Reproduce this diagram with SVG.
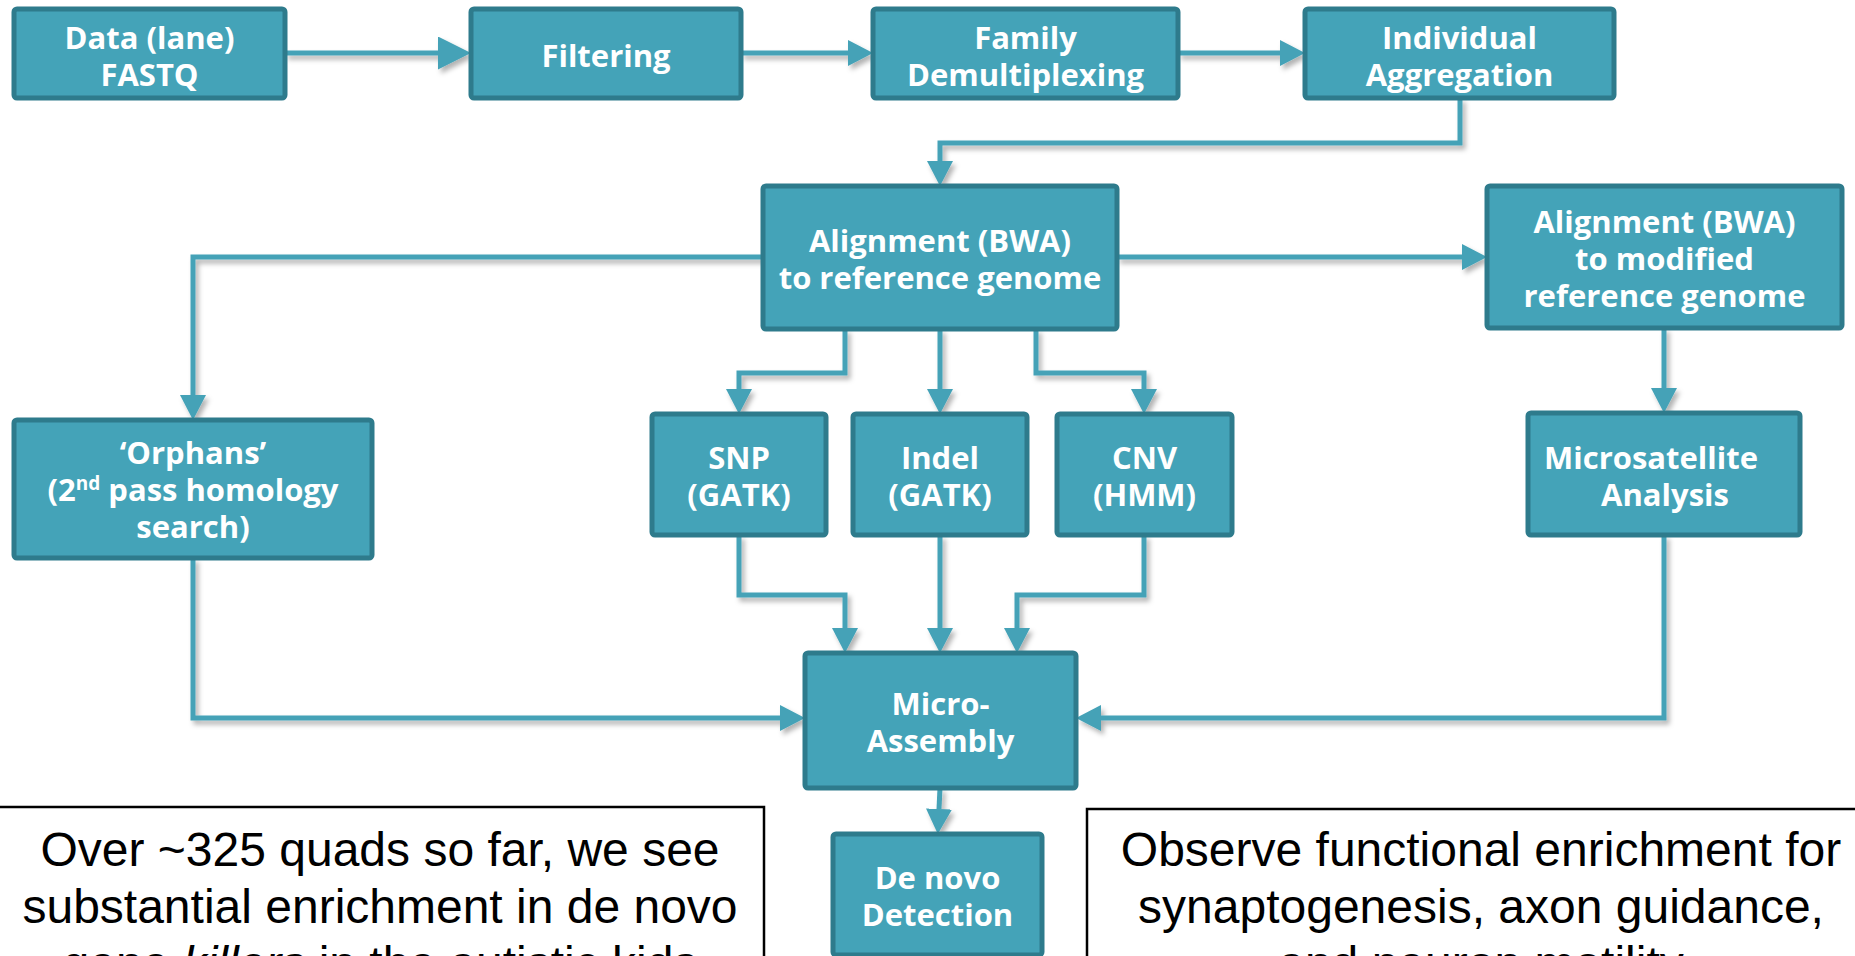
<svg xmlns="http://www.w3.org/2000/svg" width="1855" height="956" viewBox="0 0 1855 956">
<style>
.box{fill:#44a3b8;stroke:#2e7b8c;stroke-width:5;}
.lbl{font-family:"Open Sans","Liberation Sans",sans-serif;font-weight:700;font-size:31px;fill:#ffffff;text-anchor:middle;}
.sup{font-size:19px;}
.con{fill:none;stroke:#44a2b7;stroke-width:5;stroke-linejoin:miter;marker-end:url(#ah);}
.note{fill:#ffffff;stroke:#000000;stroke-width:2.5;}
.nt{font-family:"Liberation Sans",Arial,sans-serif;font-size:48px;fill:#000000;text-anchor:middle;}
</style>
<defs>
<filter id="sh" x="-10%" y="-10%" width="130%" height="130%">
<feDropShadow dx="3" dy="4" stdDeviation="2.5" flood-color="#000000" flood-opacity="0.3"/>
</filter>
<marker id="ah" viewBox="0 0 25 26" refX="0" refY="13" markerWidth="25" markerHeight="26" markerUnits="userSpaceOnUse" orient="auto">
<path d="M0,0 L25,13 L0,26 Z" fill="#44a2b7"/>
</marker>
<marker id="ahb" viewBox="0 0 33 33" refX="0" refY="16.5" markerWidth="33" markerHeight="33" markerUnits="userSpaceOnUse" orient="auto">
<path d="M0,0 L33,16.5 L0,33 Z" fill="#44a2b7"/>
</marker>
</defs>
<rect width="1855" height="956" fill="#ffffff"/>

<g id="connectors" filter="url(#sh)">
<path class="con" style="marker-end:url(#ahb)" d="M285,53 H438"/>
<path class="con" d="M741,53 H848"/>
<path class="con" d="M1178,53 H1280"/>
<path class="con" d="M1460,98 V143 H940 V161"/>
<path class="con" d="M763,257 H193 V395"/>
<path class="con" d="M1117,257 H1462"/>
<path class="con" d="M845,329 V373 H739 V389"/>
<path class="con" d="M940,329 V389"/>
<path class="con" d="M1036,329 V373 H1144 V389"/>
<path class="con" d="M1664,328 V388"/>
<path class="con" d="M739,535 V595 H845 V628"/>
<path class="con" d="M940,535 V628"/>
<path class="con" d="M1144,535 V595 H1017 V628"/>
<path class="con" d="M193,558 V718 H780"/>
<path class="con" d="M1664,535 V718 H1101"/>
<path class="con" d="M940,788 L939,809"/>
</g>

<g id="n-data">
<rect class="box" x="14" y="9" width="271" height="89" rx="3"/>
<text class="lbl" x="149.5" y="49">Data (lane)</text>
<text class="lbl" x="149.5" y="86">FASTQ</text>
</g>
<g id="n-filtering">
<rect class="box" x="471" y="9" width="270" height="89" rx="3"/>
<text class="lbl" x="606" y="67">Filtering</text>
</g>
<g id="n-family">
<rect class="box" x="873" y="9" width="305" height="89" rx="3"/>
<text class="lbl" x="1025.5" y="49">Family</text>
<text class="lbl" x="1025.5" y="86">Demultiplexing</text>
</g>
<g id="n-individual">
<rect class="box" x="1305" y="9" width="309" height="89" rx="3"/>
<text class="lbl" x="1459.5" y="49">Individual</text>
<text class="lbl" x="1459.5" y="86">Aggregation</text>
</g>
<g id="n-align">
<rect class="box" x="763" y="186" width="354" height="143" rx="3"/>
<text class="lbl" x="940" y="252">Alignment (BWA)</text>
<text class="lbl" x="940" y="289">to reference genome</text>
</g>
<g id="n-align-mod">
<rect class="box" x="1487" y="186" width="355" height="142" rx="3"/>
<text class="lbl" x="1664.5" y="233">Alignment (BWA)</text>
<text class="lbl" x="1664.5" y="270">to modified</text>
<text class="lbl" x="1664.5" y="307">reference genome</text>
</g>
<g id="n-orphans">
<rect class="box" x="14" y="420" width="358" height="138" rx="3"/>
<text class="lbl" x="193" y="464">‘Orphans’</text>
<text class="lbl" x="193" y="501">(2<tspan class="sup" dy="-11">nd</tspan><tspan dy="11"> pass homology</tspan></text>
<text class="lbl" x="193" y="538">search)</text>
</g>
<g id="n-snp">
<rect class="box" x="652" y="414" width="174" height="121" rx="3"/>
<text class="lbl" x="739" y="469">SNP</text>
<text class="lbl" x="739" y="506">(GATK)</text>
</g>
<g id="n-indel">
<rect class="box" x="853" y="414" width="174" height="121" rx="3"/>
<text class="lbl" x="940" y="469">Indel</text>
<text class="lbl" x="940" y="506">(GATK)</text>
</g>
<g id="n-cnv">
<rect class="box" x="1057" y="414" width="175" height="121" rx="3"/>
<text class="lbl" x="1144.5" y="469">CNV</text>
<text class="lbl" x="1144.5" y="506">(HMM)</text>
</g>
<g id="n-microsat">
<rect class="box" x="1528" y="413" width="272" height="122" rx="3"/>
<text class="lbl" x="1651" y="469">Microsatellite</text>
<text class="lbl" x="1665" y="506">Analysis</text>
</g>
<g id="n-microassembly">
<rect class="box" x="805" y="653" width="271" height="135" rx="3"/>
<text class="lbl" x="940.5" y="715">Micro-</text>
<text class="lbl" x="940.5" y="752">Assembly</text>
</g>
<g id="n-denovo">
<rect class="box" x="833" y="834" width="209" height="121" rx="3"/>
<text class="lbl" x="937.5" y="889">De novo</text>
<text class="lbl" x="937.5" y="926">Detection</text>
</g>

<g id="note-left">
<rect class="note" x="-3" y="807" width="767" height="200"/>
<text class="nt" x="380" y="866">Over ~325 quads so far, we see</text>
<text class="nt" x="380" y="923">substantial enrichment in de novo</text>
<text class="nt" x="380" y="980">gene <tspan font-style="italic">killers</tspan> in the autistic kids</text>
</g>
<g id="note-right">
<rect class="note" x="1087" y="809" width="800" height="200"/>
<text class="nt" x="1481" y="866">Observe functional enrichment for</text>
<text class="nt" x="1481" y="923">synaptogenesis, axon guidance,</text>
<text class="nt" x="1481" y="980">and neuron motility</text>
</g>
</svg>
